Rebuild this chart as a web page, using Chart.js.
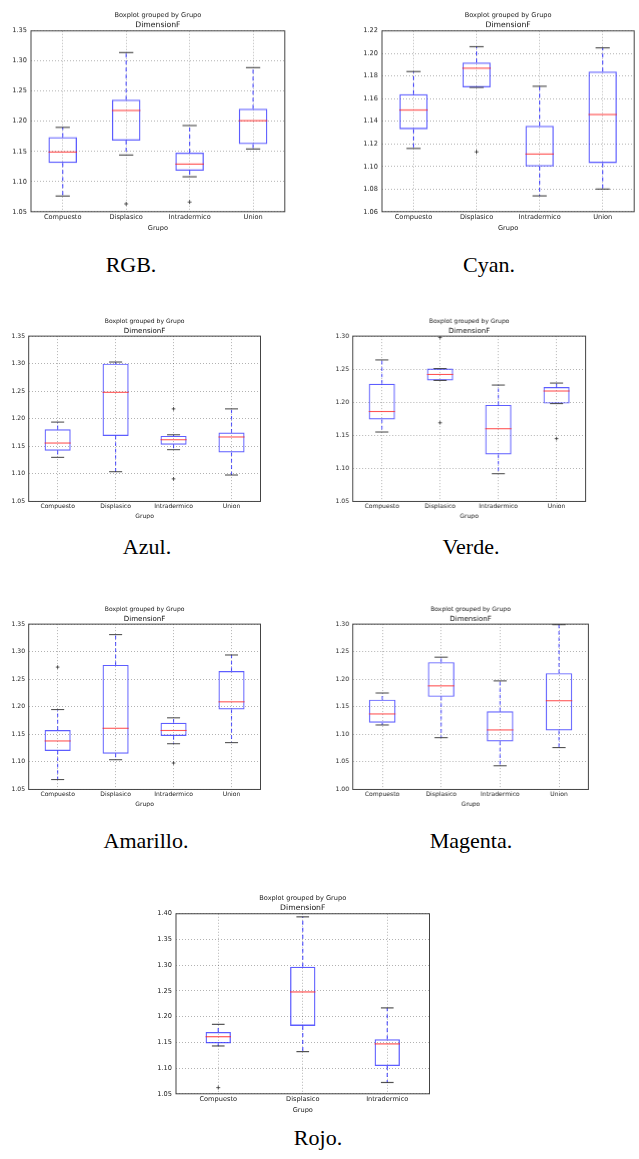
<!DOCTYPE html>
<html>
<head>
<meta charset="utf-8">
<script src="https://cdn.jsdelivr.net/npm/chart.js@4"></script>
<style>
  body { margin: 0; background: #fff; width: 639px; height: 1159px; position: relative; overflow: hidden; }
  .panel { position: absolute; }
  .cap { position: absolute; transform: translate(-50%, -50%); white-space: nowrap;
         font-family: "Liberation Serif", "DejaVu Serif", serif; font-size: 22px; color: #000; }
</style>
</head>
<body>
<div class="cap" style="left:131px;top:265px">RGB.</div>
<div class="cap" style="left:489px;top:265px">Cyan.</div>
<div class="cap" style="left:147px;top:547px">Azul.</div>
<div class="cap" style="left:471px;top:547px">Verde.</div>
<div class="cap" style="left:146px;top:841px">Amarillo.</div>
<div class="cap" style="left:471px;top:841px">Magenta.</div>
<div class="cap" style="left:318px;top:1138px">Rojo.</div>
<script>
// groups
const grupos = ['Compuesto', 'Displasico', 'Intradermico', 'Union'];
const gruposRojo = ['Compuesto', 'Displasico', 'Intradermico'];

// RGB
const rgbLow  = [1.076, 1.144, 1.108, 1.154];
const rgbQ1   = [1.131, 1.168, 1.118, 1.162];
const rgbMed  = [1.149, 1.218, 1.129, 1.201];
const rgbQ3   = [1.174, 1.236, 1.148, 1.221];
const rgbHigh = [1.190, 1.314, 1.193, 1.289];
const rgbOut  = [{ x: 'Displasico', y: 1.063 }, { x: 'Intradermico', y: 1.066 }];
const rgbTicks = [1.05, 1.10, 1.15, 1.20, 1.25, 1.30, 1.35];

// Cyan
const cyanLow  = [1.116, 1.170, 1.074, 1.080];
const cyanQ1   = [1.133, 1.170, 1.100, 1.103];
const cyanMed  = [1.150, 1.187, 1.111, 1.146];
const cyanQ3   = [1.164, 1.192, 1.136, 1.184];
const cyanHigh = [1.184, 1.206, 1.171, 1.205];
const cyanOut  = [{ x: 'Displasico', y: 1.113 }];
const cyanTicks = [1.06, 1.08, 1.10, 1.12, 1.14, 1.16, 1.18, 1.20, 1.22];

// Azul
const azulLow  = [1.130, 1.104, 1.144, 1.098];
const azulQ1   = [1.142, 1.169, 1.153, 1.139];
const azulMed  = [1.156, 1.248, 1.162, 1.167];
const azulQ3   = [1.181, 1.300, 1.169, 1.175];
const azulHigh = [1.194, 1.303, 1.171, 1.218];
const azulOut  = [{ x: 'Intradermico', y: 1.218 }, { x: 'Intradermico', y: 1.091 }];
const azulTicks = [1.05, 1.10, 1.15, 1.20, 1.25, 1.30, 1.35];

// Verde
const verdeLow  = [1.155, 1.233, 1.092, 1.198];
const verdeQ1   = [1.174, 1.233, 1.121, 1.198];
const verdeMed  = [1.186, 1.242, 1.160, 1.217];
const verdeQ3   = [1.228, 1.251, 1.196, 1.223];
const verdeHigh = [1.264, 1.251, 1.226, 1.229];
const verdeOut  = [{ x: 'Displasico', y: 1.298 }, { x: 'Displasico', y: 1.169 }, { x: 'Union', y: 1.145 }];
const verdeTicks = [1.05, 1.10, 1.15, 1.20, 1.25, 1.30];

// Amarillo
const amaLow  = [1.068, 1.104, 1.133, 1.135];
const amaQ1   = [1.120, 1.115, 1.147, 1.195];
const amaMed  = [1.138, 1.161, 1.157, 1.209];
const amaQ3   = [1.158, 1.276, 1.171, 1.265];
const amaHigh = [1.195, 1.331, 1.180, 1.294];
const amaOut  = [{ x: 'Compuesto', y: 1.272 }, { x: 'Intradermico', y: 1.098 }];
const amaTicks = [1.05, 1.10, 1.15, 1.20, 1.25, 1.30, 1.35];

// Magenta
const magLow  = [1.117, 1.094, 1.043, 1.076];
const magQ1   = [1.121, 1.168, 1.087, 1.107];
const magMed  = [1.137, 1.188, 1.108, 1.161];
const magQ3   = [1.163, 1.231, 1.142, 1.211];
const magHigh = [1.175, 1.240, 1.197, 1.299];
const magOut  = [];
const magTicks = [1.00, 1.05, 1.10, 1.15, 1.20, 1.25, 1.30];

// Rojo
const rojoLow  = [1.143, 1.132, 1.072];
const rojoQ1   = [1.148, 1.182, 1.104];
const rojoMed  = [1.161, 1.248, 1.147];
const rojoQ3   = [1.170, 1.297, 1.156];
const rojoHigh = [1.185, 1.394, 1.217];
const rojoOut  = [{ x: 'Compuesto', y: 1.062 }];
const rojoTicks = [1.05, 1.10, 1.15, 1.20, 1.25, 1.30, 1.35, 1.40];

const FONT = '"DejaVu Sans", sans-serif';
const BLUE = 'rgba(30, 30, 255, 0.72)';
const RED = 'rgba(255, 30, 30, 0.75)';

// whiskers, caps, medians and the axes frame, placed with the chart's own scales
const boxplotDraw = {
  id: 'boxplotDraw',
  afterDatasetsDraw(chart, args, opts) {
    const { ctx, chartArea } = chart;
    const y = chart.scales.y;
    const meta = chart.getDatasetMeta(0);
    const s = opts.s;
    const seg = (x1, y1, x2, y2) => { ctx.beginPath(); ctx.moveTo(x1, y1); ctx.lineTo(x2, y2); ctx.stroke(); };
    ctx.save();
    meta.data.forEach((bar, i) => {
      const x = bar.x, half = bar.width / 2, cap = half / 2;
      const yLow = y.getPixelForValue(opts.low[i]);
      const yQ1 = y.getPixelForValue(opts.q1[i]);
      const yMed = y.getPixelForValue(opts.med[i]);
      const yQ3 = y.getPixelForValue(opts.q3[i]);
      const yHigh = y.getPixelForValue(opts.high[i]);
      ctx.lineWidth = 1.2 * s;
      ctx.strokeStyle = BLUE;
      ctx.setLineDash([4 * s, 3 * s]);
      seg(x, yQ3, x, yHigh);
      seg(x, yQ1, x, yLow);
      ctx.setLineDash([]);
      ctx.strokeStyle = 'rgba(40, 40, 40, 0.8)';
      seg(x - cap, yHigh, x + cap, yHigh);
      seg(x - cap, yLow, x + cap, yLow);
      ctx.strokeStyle = RED;
      seg(x - half, yMed, x + half, yMed);
    });
    ctx.strokeStyle = '#444';
    ctx.lineWidth = 1;
    ctx.strokeRect(chartArea.left, chartArea.top, chartArea.right - chartArea.left, chartArea.bottom - chartArea.top);
    ctx.restore();
  }
};

function makePanel(p) {
  const s = p.s;
  const yw = 28 * s, xh = 20 * s;
  const tSize = 6.6 * s, sSize = 7.7 * s, tick = 6.6 * s;
  const tPad = 1.4 * s, sPad = 1.2 * s;
  const head = tSize * 1.2 + tPad + sSize * 1.2 + sPad;
  const [al, at, ar, ab] = p.area;
  const left = al - yw, top = at - head;

  const box = document.createElement('div');
  box.className = 'panel';
  box.style.left = left + 'px';
  box.style.top = top + 'px';
  box.style.width = (ar + 2 - left) + 'px';
  box.style.height = (ab + xh - top) + 'px';
  const canvas = document.createElement('canvas');
  box.appendChild(canvas);
  document.body.appendChild(box);

  new Chart(canvas, {
    type: 'bar',
    data: {
      labels: p.labels,
      datasets: [{
        data: p.q1.map((v, i) => [v, p.q3[i]]),
        backgroundColor: 'rgba(0,0,0,0)',
        borderColor: BLUE,
        borderWidth: 1.3 * s,
        borderSkipped: false,
        barPercentage: p.w,
        categoryPercentage: 1
      }, {
        type: 'line',
        data: p.out,
        showLine: false,
        pointStyle: 'cross',
        pointRadius: 2 * s,
        borderColor: '#333',
        borderWidth: 0.8
      }]
    },
    options: {
      responsive: true,
      maintainAspectRatio: false,
      animation: false,
      layout: { padding: { left: 0, right: 2, top: 0, bottom: 0 } },
      plugins: {
        legend: { display: false },
        tooltip: { enabled: false },
        title: {
          display: true, text: 'Boxplot grouped by Grupo', fullSize: false, color: '#222',
          font: { family: FONT, size: tSize, weight: 'normal', lineHeight: 1.2 },
          padding: { top: 0, bottom: tPad }
        },
        subtitle: {
          display: true, text: 'DimensionF', fullSize: false, color: '#111',
          font: { family: FONT, size: sSize, weight: 'normal', lineHeight: 1.2 },
          padding: { top: 0, bottom: sPad }
        },
        boxplotDraw: { s: s, low: p.low, q1: p.q1, med: p.med, q3: p.q3, high: p.high }
      },
      scales: {
        x: {
          type: 'category',
          offset: true,
          grid: { offset: false, drawTicks: false, color: 'rgba(0,0,0,0.3)', lineWidth: 1 },
          border: { display: false, dash: [1, 2] },
          ticks: { color: '#222', padding: 2 * s, maxRotation: 0, autoSkip: false,
                   font: { family: FONT, size: tick, lineHeight: 1.2 } },
          title: { display: true, text: 'Grupo', color: '#222', padding: { top: 0, bottom: 0 },
                   font: { family: FONT, size: tick, lineHeight: 1.2 } },
          afterFit: (axis) => { axis.height = xh; }
        },
        y: {
          min: p.ticks[0],
          max: p.ticks[p.ticks.length - 1],
          grid: { drawTicks: false, color: 'rgba(0,0,0,0.3)', lineWidth: 1 },
          border: { display: false, dash: [1, 2] },
          afterBuildTicks: (axis) => { axis.ticks = p.ticks.map(v => ({ value: v })); },
          ticks: { color: '#222', padding: 4 * s, callback: (v) => Number(v).toFixed(2),
                   font: { family: FONT, size: tick, lineHeight: 1.2 } },
          afterFit: (axis) => { axis.width = yw; }
        }
      }
    },
    plugins: [boxplotDraw]
  });
}

const k = 0.917;
makePanel({ s: 1, area: [30.7, 31, 287.3, 211], labels: grupos, w: 0.45,
  low: rgbLow, q1: rgbQ1, med: rgbMed, q3: rgbQ3, high: rgbHigh, out: rgbOut, ticks: rgbTicks });
makePanel({ s: 1, area: [382.3, 31, 637.3, 211], labels: grupos, w: 0.45,
  low: cyanLow, q1: cyanQ1, med: cyanMed, q3: cyanQ3, high: cyanHigh, out: cyanOut, ticks: cyanTicks });
makePanel({ s: k, area: [28.7, 335.7, 263.3, 501], labels: grupos, w: 0.45,
  low: azulLow, q1: azulQ1, med: azulMed, q3: azulQ3, high: azulHigh, out: azulOut, ticks: azulTicks });
makePanel({ s: k, area: [353, 335.7, 587.7, 501], labels: grupos, w: 0.45,
  low: verdeLow, q1: verdeQ1, med: verdeMed, q3: verdeQ3, high: verdeHigh, out: verdeOut, ticks: verdeTicks });
makePanel({ s: k, area: [28.7, 623.7, 263.3, 789], labels: grupos, w: 0.45,
  low: amaLow, q1: amaQ1, med: amaMed, q3: amaQ3, high: amaHigh, out: amaOut, ticks: amaTicks });
makePanel({ s: k, area: [353, 623.7, 587.7, 789], labels: grupos, w: 0.45,
  low: magLow, q1: magQ1, med: magMed, q3: magQ3, high: magHigh, out: magOut, ticks: magTicks });
makePanel({ s: 1, area: [176, 913.3, 432.3, 1093.3], labels: gruposRojo, w: 0.3,
  low: rojoLow, q1: rojoQ1, med: rojoMed, q3: rojoQ3, high: rojoHigh, out: rojoOut, ticks: rojoTicks });
</script>
</body>
</html>
